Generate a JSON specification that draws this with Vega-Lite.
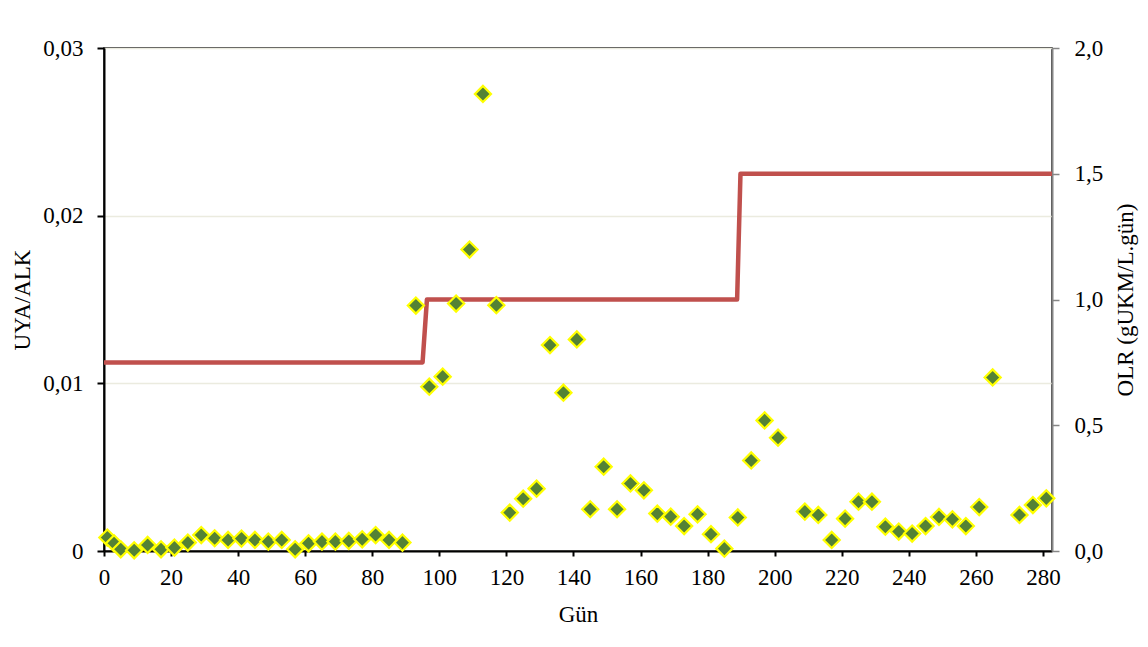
{
  "$schema": "https://vega.github.io/schema/vega-lite/v6.json",
  "width": 948,
  "height": 503,
  "autosize": {"type": "none"},
  "padding": {"left": 104, "top": 48, "right": 96, "bottom": 96},
  "background": "white",
  "view": {"stroke": "black", "strokeWidth": 1.5},
  "config": {
    "view": {"stroke": "black", "strokeWidth": 1.5},
    "font": "Liberation Serif"
  },
  "datasets": {
    "pts": [
      {"day": 1, "uya": 0.0008},
      {"day": 3, "uya": 0.00046},
      {"day": 5, "uya": 0.0001},
      {"day": 9, "uya": 0.00004},
      {"day": 13, "uya": 0.00036},
      {"day": 17, "uya": 0.0001},
      {"day": 21, "uya": 0.0002},
      {"day": 25, "uya": 0.0005},
      {"day": 29, "uya": 0.00095},
      {"day": 33, "uya": 0.00076},
      {"day": 37, "uya": 0.00066},
      {"day": 41, "uya": 0.00074},
      {"day": 45, "uya": 0.00066},
      {"day": 49, "uya": 0.00056},
      {"day": 53, "uya": 0.00066},
      {"day": 57, "uya": 0.0001},
      {"day": 61, "uya": 0.00046},
      {"day": 65, "uya": 0.00056},
      {"day": 69, "uya": 0.00056},
      {"day": 73, "uya": 0.0006},
      {"day": 77, "uya": 0.0007},
      {"day": 81, "uya": 0.00095},
      {"day": 85, "uya": 0.00066},
      {"day": 89, "uya": 0.0005},
      {"day": 93, "uya": 0.01464},
      {"day": 97, "uya": 0.0098},
      {"day": 101, "uya": 0.0104},
      {"day": 105, "uya": 0.01476},
      {"day": 109, "uya": 0.01798},
      {"day": 113, "uya": 0.02726},
      {"day": 117, "uya": 0.01466},
      {"day": 121, "uya": 0.00229},
      {"day": 125, "uya": 0.00312},
      {"day": 129, "uya": 0.00372},
      {"day": 133, "uya": 0.01228},
      {"day": 137, "uya": 0.00944},
      {"day": 141, "uya": 0.01262},
      {"day": 145, "uya": 0.00249},
      {"day": 149, "uya": 0.00503},
      {"day": 153, "uya": 0.00249},
      {"day": 157, "uya": 0.00403},
      {"day": 161, "uya": 0.00362},
      {"day": 165, "uya": 0.00223},
      {"day": 169, "uya": 0.00205},
      {"day": 173, "uya": 0.00149},
      {"day": 177, "uya": 0.00219},
      {"day": 181, "uya": 0.001},
      {"day": 185, "uya": 0.00014},
      {"day": 189, "uya": 0.002},
      {"day": 193, "uya": 0.0054},
      {"day": 197, "uya": 0.00779},
      {"day": 201, "uya": 0.00676},
      {"day": 209, "uya": 0.00235},
      {"day": 213, "uya": 0.00215},
      {"day": 217, "uya": 0.00066},
      {"day": 221, "uya": 0.00193},
      {"day": 225, "uya": 0.00294},
      {"day": 229, "uya": 0.00294},
      {"day": 233, "uya": 0.00145},
      {"day": 237, "uya": 0.00116},
      {"day": 241, "uya": 0.00104},
      {"day": 245, "uya": 0.00149},
      {"day": 249, "uya": 0.00203},
      {"day": 253, "uya": 0.00189},
      {"day": 257, "uya": 0.00149},
      {"day": 261, "uya": 0.00262},
      {"day": 265, "uya": 0.01035},
      {"day": 273, "uya": 0.00215},
      {"day": 277, "uya": 0.00274},
      {"day": 281, "uya": 0.00314}
    ],
    "olr": [
      {"day": 0, "olr": 0.75},
      {"day": 95, "olr": 0.75},
      {"day": 96.3, "olr": 1.0},
      {"day": 188.8, "olr": 1.0},
      {"day": 189.8, "olr": 1.5},
      {"day": 282.7, "olr": 1.5}
    ]
  },
  "layer": [
    {
      "data": {"name": "olr"},
      "mark": {"type": "line", "color": "#c0504d", "strokeWidth": 4.5, "strokeJoin": "round", "strokeCap": "butt"},
      "encoding": {
        "x": {
          "field": "day", "type": "quantitative",
          "scale": {"domain": [0, 282.7], "nice": false, "zero": false},
          "axis": {
            "title": "Gün", "values": [0, 20, 40, 60, 80, 100, 120, 140, 160, 180, 200, 220, 240, 260, 280],
            "grid": false, "domainColor": "black", "domainWidth": 2, "tickColor": "black", "tickWidth": 2,
            "tickSize": 5, "labelPadding": 10, "titlePadding": 14, "labelFlush": false,
            "labelFont": "Liberation Serif", "labelFontSize": 23, "labelColor": "black",
            "titleFont": "Liberation Serif", "titleFontSize": 23, "titleFontWeight": "normal", "titleColor": "black"
          }
        },
        "y": {
          "field": "olr", "type": "quantitative",
          "scale": {"domain": [0, 2], "nice": false},
          "axis": {
            "orient": "right", "title": "OLR (gUKM/L.gün)", "titleAngle": -90, "titleBaseline": "top", "titlePadding": 12,
            "values": [0, 0.5, 1, 1.5, 2], "grid": false,
            "labelExpr": "replace(format(datum.value, '.1f'), '.', ',')",
            "domainColor": "#868686", "domainWidth": 2, "tickColor": "#868686", "tickWidth": 1.5, "tickSize": 7,
            "labelPadding": 15,
            "labelFont": "Liberation Serif", "labelFontSize": 23, "labelColor": "black",
            "titleFont": "Liberation Serif", "titleFontSize": 23, "titleFontWeight": "normal", "titleColor": "black"
          }
        }
      }
    },
    {
      "data": {"name": "pts"},
      "mark": {"type": "point", "shape": "diamond", "filled": true, "fill": "#548235", "stroke": "#ffff00", "strokeWidth": 2.2, "size": 260, "opacity": 1},
      "encoding": {
        "x": {"field": "day", "type": "quantitative"},
        "y": {
          "field": "uya", "type": "quantitative",
          "scale": {"domain": [0, 0.03], "nice": false},
          "axis": {
            "orient": "left", "title": "UYA/ALK", "titlePadding": 8,
            "values": [0, 0.01, 0.02, 0.03],
            "labelExpr": "datum.value == 0 ? '0' : replace(format(datum.value, '.2f'), '.', ',')",
            "grid": true, "gridColor": "#ebebdf", "gridWidth": 1.5,
            "domainColor": "black", "domainWidth": 2, "tickColor": "black", "tickWidth": 2, "tickSize": 7,
            "labelPadding": 14,
            "labelFont": "Liberation Serif", "labelFontSize": 23, "labelColor": "black",
            "titleFont": "Liberation Serif", "titleFontSize": 23, "titleFontWeight": "normal", "titleColor": "black"
          }
        }
      }
    }
  ],
  "resolve": {"scale": {"y": "independent"}}
}
